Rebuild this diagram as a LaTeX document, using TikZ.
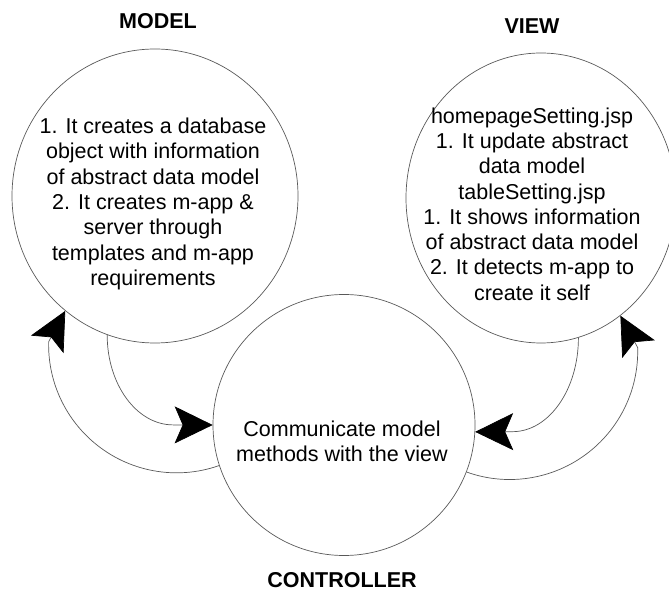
\documentclass[tikz,border=0pt]{standalone}
\usepackage{fontspec}
\setmainfont{Liberation Sans}
\usetikzlibrary{shapes.geometric,arrows.meta}
\begin{document}
\begin{tikzpicture}[x=1pt,y=1pt,
  circ/.style={draw=black!65, line width=0.7pt, ellipse, inner sep=0pt},
  body/.style={font=\fontsize{21.5}{25.3}\selectfont, align=center, inner sep=0pt},
  title/.style={font=\fontsize{21.5}{25}\selectfont\bfseries, inner sep=0pt},
  conn/.style={draw=black!65, line width=0.7pt, -{Stealth[length=38pt,width=37pt,inset=8pt,color=black]}}
]
\useasboundingbox (0,0) rectangle (669,597);
\node[circ, minimum width=286pt, minimum height=294pt] (model) at (155,401) {};
\node[circ, minimum width=270pt, minimum height=290pt] (view) at (541,399) {};
\node[circ, minimum width=262pt, minimum height=261pt] (ctrl) at (344,172) {};

\node[body] (modeltxt) at (153,393) {1. It creates a database\\ object with information\\ of abstract data model\\ 2. It creates m-app \&\\ server through\\ templates and m-app\\ requirements};
\node[body] (viewtxt) at (532,393) {homepageSetting.jsp\\ 1. It update abstract\\ data model\\ tableSetting.jsp\\ 1. It shows information\\ of abstract data model\\ 2. It detects m-app to\\ create it self};
\node[body] (ctrltxt) at (342,156) {Communicate model\\ methods with the view};

\node[title] (modellbl) at (158,576) {MODEL};
\node[title] (viewlbl) at (532,571) {VIEW};
\node[title] (ctrllbl) at (342,17) {CONTROLLER};

\draw[conn] (model.251) arc[start angle=180, end angle=270, x radius=66, y radius=90] -- (ctrl.180);
\draw[conn] (view.285) arc[start angle=0, end angle=-90, x radius=66, y radius=94] -- (ctrl.-3);
\draw[conn] (ctrl.198) arc[start angle=-70.6, end angle=-181.4, radius=128] -- (model.232);
\draw[conn] (ctrl.-21) arc[start angle=-109.7, end angle=1.8, radius=128] -- (view.304);
\end{tikzpicture}
\end{document}
